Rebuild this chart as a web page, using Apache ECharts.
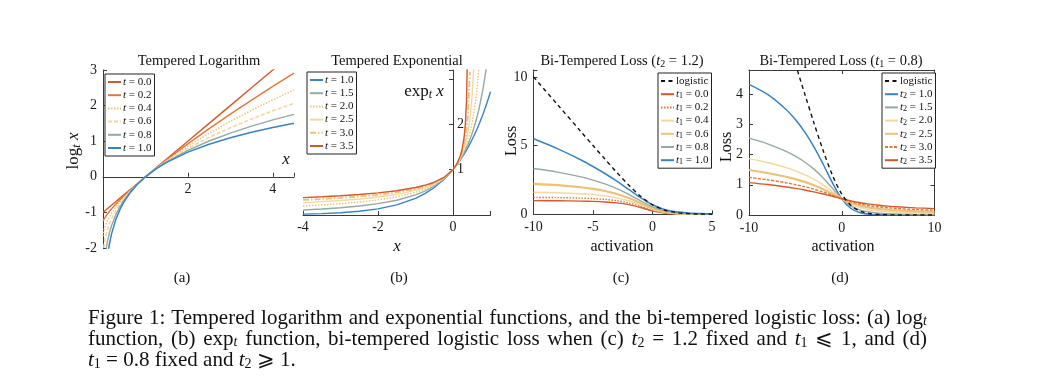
<!DOCTYPE html>
<html><head><meta charset="utf-8">
<script src="https://cdn.jsdelivr.net/npm/echarts@6/dist/echarts.min.js"></script>
<style>html,body{margin:0;padding:0;background:#fff}#c{width:1063px;height:391px}</style>
</head><body><div id="c"></div>
<script>
// ---------- (a) tempered logarithm ----------
const xA = [0, 0.01, 0.03, 0.06, 0.1, 0.15, 0.2, 0.3, 0.4, 0.5, 0.65, 0.8, 1, 1.25, 1.5, 2, 2.5, 3, 3.5, 4, 4.5];
const logA_t00 = [-1, -0.99, -0.97, -0.94, -0.9, -0.85, -0.8, -0.7, -0.6, -0.5, -0.35, -0.2, 0, 0.25, 0.5, 1, 1.5, 2, 2.5, 3, 3.5];
const logA_t02 = [-1.25, -1.2186, -1.1744, -1.1184, -1.0519, -0.9760, -0.9051, -0.7729, -0.6494, -0.5321, -0.3644, -0.2043, 0, 0.2442, 0.4790, 0.9264, 1.3517, 1.7603, 2.1555, 2.5393, 2.9133];
const logA_t04 = [-1.6667, -1.5615, -1.4634, -1.3586, -1.2480, -1.1327, -1.0321, -0.8573, -0.7049, -0.5671, -0.3796, -0.2089, 0, 0.2387, 0.4591, 0.8595, 1.2214, 1.5553, 1.8676, 2.1623, 2.4427];
const logA_t06 = [-2.5, -2.1038, -1.8851, -1.6887, -1.5047, -1.3295, -1.1867, -0.9555, -0.7672, -0.6054, -0.3957, -0.2135, 0, 0.2334, 0.4403, 0.7988, 1.1067, 1.3796, 1.6264, 1.8528, 2.0627];
const logA_t08 = [-5, -3.0095, -2.5203, -2.1517, -1.8452, -1.5788, -1.3761, -1.0700, -0.8373, -0.6473, -0.4128, -0.2182, 0, 0.2282, 0.4224, 0.7435, 1.0056, 1.2287, 1.4237, 1.5975, 1.7548];
const logA_t10 = [null, -4.6052, -3.5066, -2.8134, -2.3026, -1.8971, -1.6094, -1.2040, -0.9163, -0.6931, -0.4308, -0.2231, 0, 0.2231, 0.4055, 0.6931, 0.9163, 1.0986, 1.2528, 1.3863, 1.5041];

// ---------- (b) tempered exponential ----------
const xB = [-4, -3.5, -3, -2.5, -2, -1.5, -1, -0.75, -0.5, -0.25, 0, 0.1, 0.2, 0.25, 0.3, 0.33, 0.36, 0.38, 0.4, 0.45, 0.5, 0.55, 0.6, 0.65, 0.7, 0.8, 0.9, 1.0];
const expB_t10 = [0.0183, 0.0302, 0.0498, 0.0821, 0.1353, 0.2231, 0.3679, 0.4724, 0.6065, 0.7788, 1, 1.1052, 1.2214, 1.2840, 1.3499, 1.3910, 1.4333, 1.4623, 1.4918, 1.5683, 1.6487, 1.7333, 1.8221, 1.9155, 2.0138, 2.2255, 2.4596, 2.7183];
const expB_t15 = [0.1111, 0.1322, 0.16, 0.1975, 0.25, 0.3265, 0.4444, 0.5289, 0.64, 0.7901, 1, 1.1080, 1.2346, 1.3061, 1.3841, 1.4342, 1.4872, 1.5242, 1.5625, 1.6649, 1.7778, 1.9025, 2.0408, 2.1948, 2.3669, 2.7778, 3.3058, 4];
const expB_t20 = [0.2, 0.2222, 0.25, 0.2857, 0.3333, 0.4, 0.5, 0.5714, 0.6667, 0.8, 1, 1.1111, 1.25, 1.3333, 1.4286, 1.4925, 1.5625, 1.6129, 1.6667, 1.8182, 2, 2.2222, 2.5, 2.8571, 3.3333, 5, 10, null];
const expB_t25 = [0.2733, 0.2947, 0.3209, 0.3539, 0.3969, 0.4558, 0.5429, 0.6050, 0.6886, 0.8087, 1, 1.1144, 1.2684, 1.3680, 1.4897, 1.5770, 1.6781, 1.7553, 1.8420, 2.1156, 2.5198, 3.1962, 4.6416, 11.696, null, null, null, null];
const expB_t30 = [0.3333, 0.3536, 0.3780, 0.4082, 0.4472, 0.5, 0.5774, 0.6325, 0.7071, 0.8165, 1, 1.1180, 1.2910, 1.4142, 1.5811, 1.7150, 1.8898, 2.0412, 2.2361, 3.1623, null, null, null, null, null, null, null, null];
const expB_t35 = [0.3832, 0.4022, 0.4249, 0.4528, 0.4884, 0.5362, 0.6059, 0.6555, 0.7230, 0.8235, 1, 1.1220, 1.3195, 1.4804, 1.7411, 2.0081, 2.5119, 3.3144, null, null, null, null, null, null, null, null, null, null];

// ---------- (c) bi-tempered loss, t2 = 1.2 ----------
const xC = [-10, -8, -6, -5, -4, -3, -2, -1, 0, 1, 2, 3, 4, 5];
const logisticC = [10.0, 8.0003, 6.0025, 5.0067, 4.0181, 3.0486, 2.1269, 1.3133, 0.6931, 0.3133, 0.1269, 0.0486, 0.0181, 0.0067];
const lossC_t00 = [0.9918, 0.9833, 0.9620, 0.9394, 0.8998, 0.8283, 0.6996, 0.4920, 0.25, 0.0892, 0.0268, 0.0081, 0.0026, 0.0009];
const lossC_t02 = [1.2305, 1.2144, 1.1785, 1.1434, 1.0860, 0.9886, 0.8248, 0.5755, 0.2956, 0.1097, 0.0350, 0.0113, 0.0040, 0.0015];
const lossC_t04 = [1.601, 1.564, 1.493, 1.432, 1.3407, 1.1997, 0.9832, 0.6792, 0.3544, 0.1391, 0.0486, 0.0174, 0.0068, 0.0029];
const lossC_t06 = [2.218, 2.123, 1.969, 1.853, 1.698, 1.482, 1.1866, 0.810, 0.4324, 0.1826, 0.0710, 0.0287, 0.0126, 0.0060];
const lossC_t08 = [3.330, 3.072, 2.720, 2.489, 2.211, 1.869, 1.4527, 0.980, 0.5394, 0.249, 0.1097, 0.0505, 0.0250, 0.0133];
const lossC_t10 = [5.494, 4.780, 3.953, 3.480, 2.968, 2.409, 1.810, 1.2087, 0.6931, 0.3547, 0.1786, 0.0942, 0.0528, 0.0313];

// ---------- (d) bi-tempered loss, t1 = 0.8 ----------
const xD = [-10, -8, -6, -5, -4, -3, -2, -1, 0, 1, 2, 3, 4, 5, 6, 8, 10];
const logisticD = [10.0, 8.0003, 6.0025, 5.0067, 4.0181, 3.0486, 2.1269, 1.3133, 0.6931, 0.3133, 0.1269, 0.0486, 0.0181, 0.0067, 0.0025, 0.0003, 0.0];
const lossD_t10 = [4.323, 3.990, 3.493, 3.1585, 2.7503, 2.2568, 1.6796, 1.0660, 0.5394, 0.2149, 0.0725, 0.0226, 0.0069, 0.0021, 0.0006, 0.0001, 0.0];
const lossD_t15 = [2.5443, 2.3555, 2.1058, 1.9462, 1.7540, 1.5180, 1.2269, 0.8830, 0.5394, 0.2940, 0.1630, 0.0975, 0.0630, 0.0434, 0.0313, 0.0181, 0.0116];
const lossD_t20 = [1.8676, 1.7371, 1.5684, 1.4624, 1.3364, 1.1835, 0.9960, 0.7724, 0.5394, 0.3558, 0.2423, 0.1756, 0.1347, 0.1077, 0.0889, 0.0651, 0.0507];
const lossD_t25 = [1.4898, 1.3907, 1.2649, 1.1869, 1.0954, 0.9860, 0.8545, 0.7005, 0.5394, 0.4035, 0.3088, 0.2465, 0.2044, 0.1746, 0.1526, 0.1224, 0.1026];
const lossD_t30 = [1.2446, 1.1660, 1.0674, 1.0074, 0.9378, 0.8560, 0.7606, 0.6519, 0.5394, 0.4398, 0.3632, 0.3080, 0.2677, 0.2376, 0.2144, 0.1810, 0.1581];
const lossD_t35 = [1.0723, 1.0082, 0.9287, 0.8814, 0.8276, 0.7658, 0.6954, 0.6190, 0.5394, 0.4665, 0.4072, 0.3600, 0.3234, 0.2948, 0.2718, 0.2373, 0.2126];

// ---------- labels ----------
const legendA = ['{i|t} = 0.0', '{i|t} = 0.2', '{i|t} = 0.4', '{i|t} = 0.6', '{i|t} = 0.8', '{i|t} = 1.0'];
const legendB = ['{i|t} = 1.0', '{i|t} = 1.5', '{i|t} = 2.0', '{i|t} = 2.5', '{i|t} = 3.0', '{i|t} = 3.5'];
const legendC = ['logistic', '{i|t}{s|1} = 0.0', '{i|t}{s|1} = 0.2', '{i|t}{s|1} = 0.4', '{i|t}{s|1} = 0.6', '{i|t}{s|1} = 0.8', '{i|t}{s|1} = 1.0'];
const legendD = ['logistic', '{i|t}{s|2} = 1.0', '{i|t}{s|2} = 1.5', '{i|t}{s|2} = 2.0', '{i|t}{s|2} = 2.5', '{i|t}{s|2} = 3.0', '{i|t}{s|2} = 3.5'];
const ticksAx = [2, 4];
const ticksBy = [1, 2];
const captionLines = [
  'Figure 1: Tempered logarithm and exponential functions, and the bi-tempered logistic loss: (a) log{sub|t}',
  'function, (b) exp{sub|t} function, bi-tempered logistic loss when (c) {i|t}{subn|2} = 1.2 fixed and {i|t}{subn|1} \u2A7D 1, and (d)',
  '{i|t}{subn|1} = 0.8 fixed and {i|t}{subn|2} \u2A7E 1.'
];

// ---------- styling ----------
const SERIF = '"Liberation Serif", "Times New Roman", serif';
const BLUE = '#3a82c6', GRAY = '#96a9a5', LIGHT = '#f3d7a0', TAN = '#ecc17a', ORANGE = '#e0783a', DARK = '#d2592b', AX = '#3a3a3a';

const labelMap = {};
const names = {a: [], b: [], c: [], d: []};
function reg(key, id, label) { labelMap[id] = label; names[key].push(id); return id; }

function ser(idx, xs, ys, name, color, width, type, smooth, z) {
  return { type: 'line', name, xAxisIndex: idx, yAxisIndex: idx,
    data: xs.map((x, i) => [x, ys[i]]), symbol: 'none', showSymbol: false, smooth: smooth,
    clip: true, connectNulls: false, lineStyle: { color, width, type }, itemStyle: { color },
    emphasis: { disabled: true }, z: z || 2 };
}

const series = [];
const aSets = [[logA_t00, DARK, 1.4, 'solid'], [logA_t02, ORANGE, 1.4, 'solid'], [logA_t04, TAN, 1.4, [1.5, 1.5]], [logA_t06, LIGHT, 1.6, [4, 2]], [logA_t08, GRAY, 1.4, 'solid'], [logA_t10, BLUE, 1.5, 'solid']];
aSets.forEach((s, i) => series.push(ser(0, xA, s[0], reg('a', 'a' + i, legendA[i]), s[1], s[2], s[3], false)));
const bSets = [[expB_t10, BLUE, 1.4, 'solid'], [expB_t15, GRAY, 1.4, 'solid'], [expB_t20, TAN, 1.4, [1.5, 1.5]], [expB_t25, LIGHT, 1.4, 'solid'], [expB_t30, TAN, 1.8, [6, 2, 1.5, 2]], [expB_t35, DARK, 1.4, 'solid']];
bSets.forEach((s, i) => series.push(ser(1, xB, s[0], reg('b', 'b' + i, legendB[i]), s[1], s[2], s[3], false)));
const cSets = [[lossC_t00, DARK, 1.4, 'solid'], [lossC_t02, ORANGE, 1.4, [1.5, 1.5]], [lossC_t04, LIGHT, 1.4, 'solid'], [lossC_t06, TAN, 2.2, 'solid'], [lossC_t08, GRAY, 1.4, 'solid'], [lossC_t10, BLUE, 1.5, 'solid']];
series.push(ser(2, xC, logisticC, reg('c', 'cl', legendC[0]), '#111', 1.4, [4, 3.5], 0.3, 5));
cSets.forEach((s, i) => series.push(ser(2, xC, s[0], reg('c', 'c' + i, legendC[i + 1]), s[1], s[2], s[3], 0.3)));
const dSets = [[lossD_t10, BLUE, 1.5, 'solid'], [lossD_t15, GRAY, 1.4, 'solid'], [lossD_t20, LIGHT, 1.4, 'solid'], [lossD_t25, TAN, 2.2, 'solid'], [lossD_t30, ORANGE, 1.4, [3, 1.5]], [lossD_t35, DARK, 1.4, 'solid']];
series.push(ser(3, xD, logisticD, reg('d', 'dl', legendD[0]), '#111', 1.4, [4, 3.5], 0.3, 5));
dSets.forEach((s, i) => series.push(ser(3, xD, s[0], reg('d', 'd' + i, legendD[i + 1]), s[1], s[2], s[3], 0.3)));

const rich = {
  i: { fontFamily: SERIF, fontStyle: 'italic', fontSize: 11, lineHeight: 12, color: '#111' },
  s: { fontFamily: SERIF, fontSize: 8, lineHeight: 8, verticalAlign: 'bottom', color: '#111' }
};
function legend(key, left, top) {
  return { data: names[key], orient: 'vertical', left, top, itemWidth: 13, itemHeight: 8, itemGap: 1.2,
    padding: [2, 3, 2, 2], borderColor: '#222', borderWidth: 1, backgroundColor: '#fff', selectedMode: false,
    itemStyle: { opacity: 0 },
    formatter: n => labelMap[n],
    textStyle: { fontFamily: SERIF, fontSize: 11, lineHeight: 12, color: '#111', padding: [0, 0, 0, -3], rich } };
}

const tickStyle = { show: true, inside: true, length: 4, lineStyle: { color: AX } };
const lblStyle = { color: '#1a1a1a', fontFamily: SERIF, fontSize: 14 };
const intOnly = v => Number.isInteger(v) ? String(v) : '';
function ax(grid, min, max, interval, extra) {
  return Object.assign({ type: 'value', gridIndex: grid, min, max, interval,
    axisLine: { show: true, onZero: false, lineStyle: { color: AX, width: 1 } },
    axisTick: tickStyle,
    axisLabel: Object.assign({ margin: 6, formatter: intOnly }, lblStyle),
    splitLine: { show: false } }, extra || {});
}
const hidden = (grid, min, max) => ({ type: 'value', gridIndex: grid, min, max, show: false });

const xAxis = [
  hidden(0, 0, 4.5),
  ax(1, -4, 1, 2, { axisLabel: Object.assign({ margin: 5, formatter: v => v <= 0 ? String(v) : '' }, lblStyle) }),
  ax(2, -10, 5, 5),
  ax(3, -10, 10, 10),
  ax(3, -10, 10, 10, { position: 'top', axisLabel: { show: false } }),
  ax(4, 0, 4.5, 2, { axisLabel: Object.assign({ margin: 6, formatter: v => ticksAx.includes(v) ? String(v) : '' }, lblStyle) }),
  hidden(5, -4, 0)
];
const yAxis = [
  ax(0, -2, 3, 1),
  hidden(1, 0, 3.2),
  ax(2, 0, 10.5, 5),
  ax(3, 0, 4.8, 1),
  ax(3, 0, 4.8, 1, { position: 'right', axisLabel: { show: false } }),
  hidden(4, 0, 3),
  ax(5, 0, 3.2, 1, { position: 'right', axisLabel: Object.assign({ margin: 4, formatter: v => ticksBy.includes(v) ? String(v) : '' }, lblStyle) })
];

function txt(x, y, text, size, extra) {
  extra = extra || {};
  const el = { type: 'text', x, y, silent: true,
    style: Object.assign({ text, fontFamily: SERIF, fontSize: size, fill: '#111', align: 'center', verticalAlign: 'middle' }, extra.style || {}) };
  if (extra.rotation !== undefined) el.rotation = extra.rotation;
  return el;
}
const CAP = 21, CAPSUB = 14;
const capRich = {
  sub: { fontFamily: SERIF, fontSize: CAPSUB, fontStyle: 'italic', verticalAlign: 'bottom', lineHeight: 13, fill: '#111' },
  subn: { fontFamily: SERIF, fontSize: CAPSUB, verticalAlign: 'bottom', lineHeight: 13, fill: '#111' },
  i: { fontFamily: SERIF, fontSize: CAP, fontStyle: 'italic', lineHeight: 22, fill: '#111' }
};
const titRich = {
  i: { fontFamily: SERIF, fontSize: 14.5, fontStyle: 'italic', lineHeight: 16, fill: '#111' },
  s: { fontFamily: SERIF, fontSize: 10, verticalAlign: 'bottom', lineHeight: 10, fill: '#111' }
};
const axRich = {
  i: { fontFamily: SERIF, fontSize: 17, fontStyle: 'italic', lineHeight: 18, fill: '#111' },
  s: { fontFamily: SERIF, fontSize: 12, fontStyle: 'italic', verticalAlign: 'bottom', lineHeight: 11, fill: '#111' },
  n: { fontFamily: SERIF, fontSize: 17, lineHeight: 18, fill: '#111' }
};

// caption justification (measure words with canvas)
const mctx = document.createElement('canvas').getContext('2d');
const capFonts = { n: CAP + 'px ' + SERIF, i: 'italic ' + CAP + 'px ' + SERIF, sub: 'italic ' + CAPSUB + 'px ' + SERIF, subn: CAPSUB + 'px ' + SERIF };
function measureRich(word) {
  let w = 0; const re = /\{(\w+)\|([^}]*)\}|([^{]+)/g; let m;
  while ((m = re.exec(word))) {
    const style = m[1] || 'n', t = m[1] ? m[2] : m[3];
    mctx.font = capFonts[style]; w += mctx.measureText(t).width;
  }
  return w;
}
const CAP_LEFT = 88, CAP_RIGHT = 927, CAP_Y = [318, 339, 360];
const captionGraphics = [];
captionLines.forEach((line, li) => {
  const words = line.split(' ');
  const widths = words.map(measureRich);
  const total = widths.reduce((a, b) => a + b, 0);
  mctx.font = capFonts.n;
  const natural = mctx.measureText(' ').width;
  const justify = li < captionLines.length - 1;
  const gap = justify ? (CAP_RIGHT - CAP_LEFT - total) / (words.length - 1) : natural;
  let x = CAP_LEFT;
  words.forEach((w, k) => {
    captionGraphics.push(txt(x, CAP_Y[li], w, CAP, { style: { align: 'left', rich: capRich } }));
    x += widths[k] + gap;
  });
});

const graphic = [
  txt(199, 61, 'Tempered Logarithm', 14.5),
  txt(397, 61, 'Tempered Exponential', 14.5),
  txt(622, 61, 'Bi-Tempered Loss ({i|t}{s|2} = 1.2)', 14.5, { style: { rich: titRich } }),
  txt(841, 61, 'Bi-Tempered Loss ({i|t}{s|1} = 0.8)', 14.5, { style: { rich: titRich } }),
  txt(74, 151, '{n|log}{s|t} {i|x}', 17, { rotation: Math.PI / 2, style: { rich: axRich } }),
  txt(286, 160, '{i|x}', 17, { style: { rich: axRich } }),
  txt(424, 92, '{n|exp}{s|t} {i|x}', 17, { style: { rich: axRich } }),
  txt(397, 247, '{i|x}', 17, { style: { rich: axRich } }),
  txt(512, 141, 'Loss', 16, { rotation: Math.PI / 2 }),
  txt(622, 247, 'activation', 16),
  txt(727, 147, 'Loss', 16, { rotation: Math.PI / 2 }),
  txt(843, 247, 'activation', 16),
  txt(182, 278, '(a)', 15),
  txt(399, 278, '(b)', 15),
  txt(621, 278, '(c)', 15),
  txt(840, 278, '(d)', 15)
].concat(captionGraphics);

const chart = echarts.init(document.getElementById('c'), null, { renderer: 'canvas' });
chart.setOption({
  animation: false,
  backgroundColor: '#fff',
  grid: [
    { left: 103, top: 70, width: 191, height: 178 },
    { left: 303, top: 70, width: 187.5, height: 145 },
    { left: 533.5, top: 70, width: 178.5, height: 144.3 },
    { left: 749, top: 70, width: 185.5, height: 145 },
    { left: 103, top: 70, width: 191, height: 106.8 },
    { left: 303, top: 70, width: 150, height: 145 }
  ],
  xAxis, yAxis, series,
  legend: [legend('a', 105, 74), legend('b', 307, 72), legend('c', 658, 73), legend('d', 882, 73)],
  graphic
});
</script></body></html>
